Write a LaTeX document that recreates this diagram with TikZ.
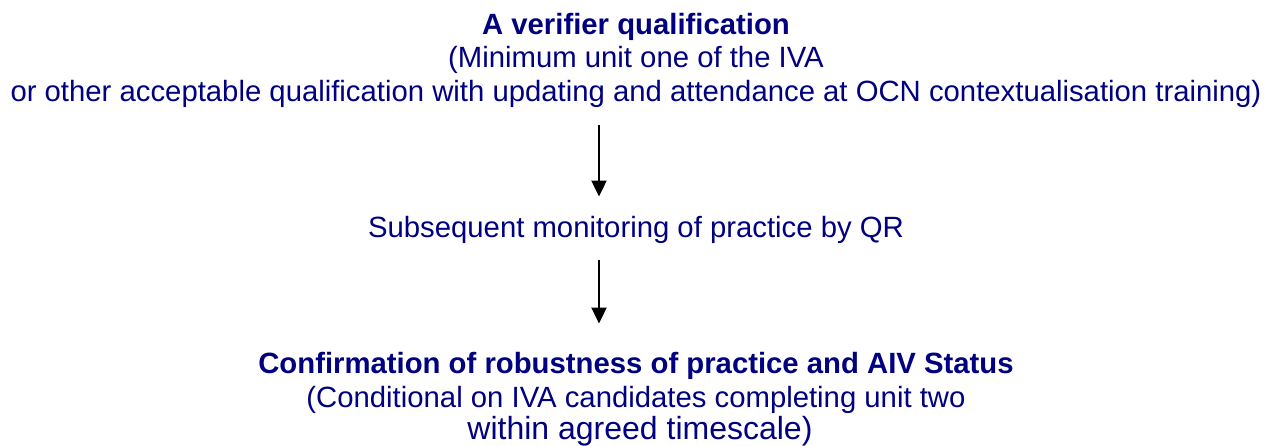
\documentclass[tikz,border=0pt]{standalone}
\usepackage{fontspec}
\setmainfont{Liberation Sans}
\usetikzlibrary{arrows.meta, positioning}
\definecolor{navytext}{RGB}{0,0,128}
\tikzset{
line/.style={anchor=base, inner sep=0pt, text=navytext, font=\fontsize{29.3}{34}\selectfont}, % plain text lines
title/.style={line, font=\fontsize{29.3}{34}\selectfont\bfseries}, % bold headings
flow/.style={-{Triangle[length=16pt,width=15pt]}, line width=2pt, black}, % the two down arrows
}

\begin{document}
\begin{tikzpicture}[x=1pt, y=-1pt]
                \useasboundingbox (0,0) rectangle (1266,446);
                \node[title] (qual) at (636,35) {A verifier qualification};
                \node[line] (minimum) at (636,68) {(Minimum unit one of the IVA};
                \node[line] (other) at (636,102) {or other acceptable qualification with updating and attendance at OCN contextualisation training)};
                \node[line] (monitor) at (636,238) {Subsequent monitoring of practice by QR};
                \node[title] (confirm) at (636,373) {Confirmation of robustness of practice and AIV Status};
                \node[line] (cond) at (636,407) {(Conditional on IVA candidates completing unit two};
                \node[line, font=\fontsize{32}{36}\selectfont] (within) at (640,439) {within agreed timescale)};
                \coordinate (col) at (599,0);
                \draw[flow, shorten <=17pt, shorten >=20pt] (other.south -| col) -- (monitor.north -| col);
                \draw[flow, shorten <=16pt, shorten >=28pt] (monitor.south -| col) -- (confirm.north -| col);
                \end{tikzpicture}
\end{document}
